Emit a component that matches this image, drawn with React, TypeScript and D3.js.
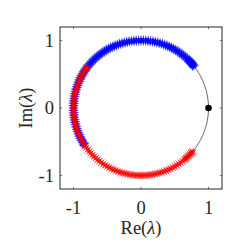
import React from "react";
import * as d3 from "d3";

const W = 245;
const H = 245;
const MARGIN = { TOP: 27, LEFT: 60, RIGHT: 23, BOTTOM: 56 };

const xTicks = [-1, 0, 1];
const yTicks = [-1, 0, 1];

// eigenvalue arguments (degrees), each drawn at a few moduli
const blueAngle = [
  38, 39, 40, 41, 42, 43, 44, 45, 46, 48, 50, 52, 54, 56, 58, 60, 62, 64, 66, 68,
  70, 72, 74, 76, 78, 80, 82, 84, 86, 88, 90, 92, 94, 96, 98, 100, 102, 104, 106, 108,
  110, 112, 114, 116, 118, 120, 122, 124, 126, 128, 130, 132, 134, 136, 138, 140, 142, 144, 146, 148,
  150, 152, 154, 156, 158, 160, 162, 164, 166, 168, 170, 172, 174, 176, 178, 180, 182, 184, 186, 188,
  190, 192, 194, 196, 198, 200, 202, 204, 206, 208, 210, 212, 213,
];
const blueModulus = [0.97, 0.985, 1.0, 1.015, 1.03];

const redAngle = [
  143, 144, 146, 148, 150, 152, 154, 156, 158, 160, 162, 164, 166, 168, 170, 172, 174, 176, 178, 180,
  182, 184, 186, 188, 190, 192, 194, 196, 198, 200, 202, 204, 206, 208, 210, 212, 214, 216, 218, 220,
  222, 224, 226, 228, 230, 232, 234, 236, 238, 240, 242, 244, 246, 248, 250, 252, 254, 256, 258, 260,
  262, 264, 266, 268, 270, 272, 274, 276, 278, 280, 282, 284, 286, 288, 290, 292, 294, 296, 298, 300,
  302, 304, 306, 308, 310, 311, 312, 313, 314, 315, 316, 317, 318, 319, 320,
];
const redModulus = [0.98, 0.993, 1.007, 1.02];

const fixedPoint = [{ re: 1, im: 0 }];

const AXIS = "#262626";
const SERIF = "'Liberation Serif', 'DejaVu Serif', serif";

export default function App() {
  const x = d3
    .scaleLinear()
    .domain([-1.2, 1.2])
    .range([MARGIN.LEFT, W - MARGIN.RIGHT]);
  const y = d3
    .scaleLinear()
    .domain([-1.2, 1.2])
    .range([H - MARGIN.BOTTOM, MARGIN.TOP]);

  const toPt = (a: number, m: number) => {
    const t = (a * Math.PI) / 180;
    return [x(m * Math.cos(t)), y(m * Math.sin(t))];
  };

  const circle = d3
    .line<number>()
    .x((d) => x(Math.cos(d)))
    .y((d) => y(Math.sin(d)));
  const circleAngles = d3.range(0, 2 * Math.PI + 0.01, 0.02);

  const s = 3;
  const plus = `M${-s},0L${s},0M0,${-s}L0,${s}`;
  const c = s * 0.75;
  const cross = `M${-c},${-c}L${c},${c}M${-c},${c}L${c},${-c}`;

  const bluePts = blueAngle.flatMap((a) => blueModulus.map((m) => toPt(a, m)));
  const redPts = redAngle.flatMap((a) => redModulus.map((m) => toPt(a, m)));

  const x0 = x(-1.2);
  const x1 = x(1.2);
  const y0 = y(-1.2);
  const y1 = y(1.2);
  const tk = 2.2;

  return (
    <svg
      width={W}
      height={H}
      style={{ position: "absolute", left: 0, top: 0, background: "#fff" }}
    >
      <path d={circle(circleAngles) || ""} fill="none" stroke="#000" strokeWidth={0.6} />

      <g stroke="#0000ff" strokeWidth={0.6} fill="none">
        {bluePts.map(([px, py], i) => (
          <path key={i} d={plus} transform={`translate(${px},${py})`} />
        ))}
      </g>
      <g stroke="#ff0000" strokeWidth={0.6} fill="none">
        {redPts.map(([px, py], i) => (
          <path key={i} d={cross} transform={`translate(${px},${py})`} />
        ))}
      </g>

      {fixedPoint.map((p, i) => (
        <circle key={i} cx={x(p.re)} cy={y(p.im)} r={3.3} fill="#000" />
      ))}

      <rect
        x={x0}
        y={y1}
        width={x1 - x0}
        height={y0 - y1}
        fill="none"
        stroke={AXIS}
        strokeWidth={1}
      />
      <g stroke={AXIS} strokeWidth={0.6}>
        {xTicks.map((t) => (
          <g key={"x" + t}>
            <line x1={x(t)} x2={x(t)} y1={y0} y2={y0 - tk} />
            <line x1={x(t)} x2={x(t)} y1={y1} y2={y1 + tk} />
          </g>
        ))}
        {yTicks.map((t) => (
          <g key={"y" + t}>
            <line x1={x0} x2={x0 + tk} y1={y(t)} y2={y(t)} />
            <line x1={x1} x2={x1 - tk} y1={y(t)} y2={y(t)} />
          </g>
        ))}
      </g>

      <g fontFamily={SERIF} fontSize={18.5} fill={AXIS}>
        {xTicks.map((t) => (
          <text key={"xl" + t} x={x(t)} y={y0 + 25} textAnchor="middle">
            {t}
          </text>
        ))}
        {yTicks.map((t) => (
          <text key={"yl" + t} x={x0 - 6} y={y(t) + 6} textAnchor="end">
            {t}
          </text>
        ))}
        <text x={(x0 + x1) / 2} y={y0 + 45} textAnchor="middle">
          Re(<tspan fontStyle="italic">λ</tspan>)
        </text>
        <text
          transform={`translate(${x0 - 28},${(y0 + y1) / 2}) rotate(-90)`}
          textAnchor="middle"
        >
          Im(<tspan fontStyle="italic">λ</tspan>)
        </text>
      </g>
    </svg>
  );
}
